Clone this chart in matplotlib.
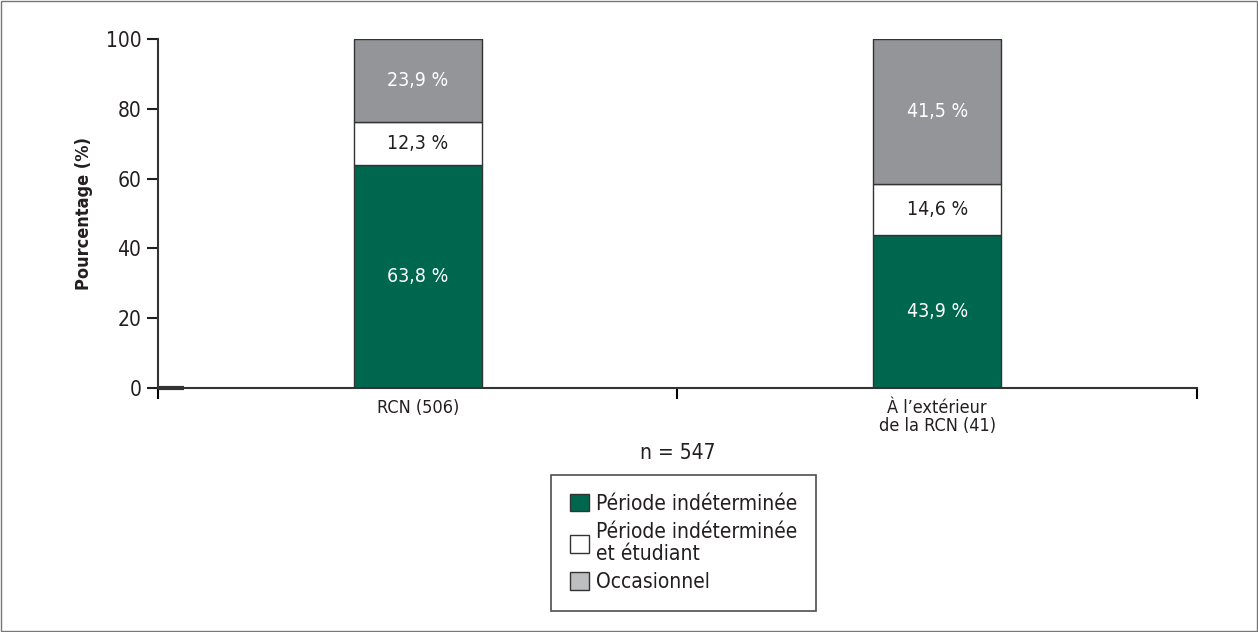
import matplotlib.pyplot as plt
from matplotlib.patches import Patch, Rectangle

# DejaVu Sans en version étroite
plt.rcParams['font.family'] = ['DejaVu Sans']
plt.rcParams['font.stretch'] = 'condensed'

categories = ['RCN (506)', 'À l’extérieur\nde la RCN (41)']
indeterminee = [63.8, 43.9]
etudiant = [12.3, 14.6]
occasionnel = [23.9, 41.5]
series = ['Période indéterminée', 'Période indéterminée\net étudiant', 'Occasionnel']

vert = '#00674f'
gris = '#939598'

fig = plt.figure(figsize=(12.58, 6.32), dpi=100)
ax = fig.add_axes([0.1256, 0.386, 0.8259, 0.5524])

x = range(len(categories))
bas2 = indeterminee
bas3 = [a + b for a, b in zip(indeterminee, etudiant)]
ax.bar(x, indeterminee, width=0.246, color=vert, edgecolor='#333333', linewidth=1)
ax.bar(x, etudiant, width=0.246, bottom=bas2, color='white', edgecolor='#333333', linewidth=1)
ax.bar(x, occasionnel, width=0.246, bottom=bas3, color=gris, edgecolor='#333333', linewidth=1)

def fmt(v):
    return f'{v:.1f} %'.replace('.', ',')

for i in x:
    ax.text(i, indeterminee[i] / 2, fmt(indeterminee[i]), ha='center', va='center',
            color='white', fontsize=14)
    ax.text(i, bas2[i] + etudiant[i] / 2, fmt(etudiant[i]), ha='center', va='center',
            color='#231f20', fontsize=14)
    ax.text(i, bas3[i] + occasionnel[i] / 2, fmt(occasionnel[i]), ha='center', va='center',
            color='white', fontsize=14)

ax.set_xlim(-0.5, 1.5)
ax.set_ylim(0, 100)
ax.set_yticks([0, 20, 40, 60, 80, 100])
ax.set_xticks([-0.5, 0.5, 1.5])
ax.set_xticklabels([])
for i, c in enumerate(categories):
    ax.text(i, -3.0, c, ha='center', va='top', fontsize=13, color='#231f20', linespacing=1.0)

ax.tick_params(axis='y', direction='out', length=8, width=1.5, labelsize=15,
               colors='#231f20', pad=4)
ax.tick_params(axis='x', direction='out', length=8, width=1.5)
for s in ['top', 'right']:
    ax.spines[s].set_visible(False)
for s in ['left', 'bottom']:
    ax.spines[s].set_linewidth(1.5)
    ax.spines[s].set_color('#333333')
ax.plot([-0.5, -0.45], [0, 0], color='#333333', lw=3, clip_on=False, solid_capstyle='butt')

ax.set_ylabel('Pourcentage (%)', fontsize=13, fontweight='bold', color='#231f20', labelpad=9)

fig.text(0.539, 0.283, 'n = 547', ha='center', va='center', fontsize=15, color='#231f20')

poignees = [Patch(facecolor=vert, edgecolor='#333333'),
            Patch(facecolor='white', edgecolor='#333333'),
            Patch(facecolor='#bcbec0', edgecolor='#333333')]
leg = fig.legend(poignees, series, loc='upper left', bbox_to_anchor=(0.438, 0.248),
                 fontsize=15, frameon=True, fancybox=False, handlelength=0.9,
                 handleheight=0.9, handletextpad=0.35, labelspacing=0.4,
                 borderpad=0.9, borderaxespad=0, edgecolor='#231f20')
leg.get_frame().set_linewidth(1.2)
for t in leg.get_texts():
    t.set_color('#231f20')
    t.set_linespacing(1.1)

fig.patches.append(Rectangle((0.001, 0.002), 0.998, 0.996, transform=fig.transFigure,
                             fill=False, edgecolor='#777777', linewidth=1))

fig.savefig('out.png', dpi=100)
